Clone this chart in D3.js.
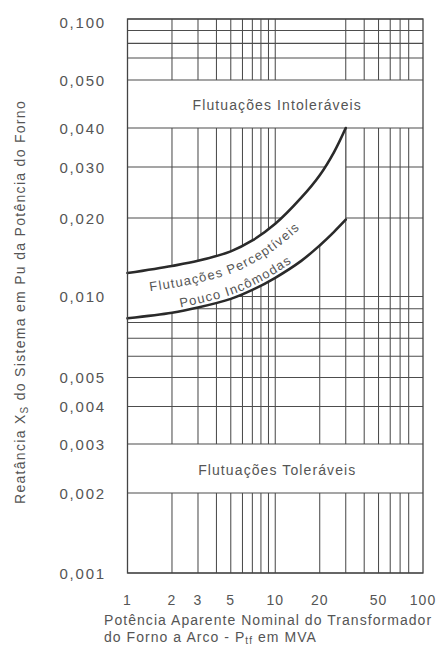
<!DOCTYPE html>
<html>
<head>
<meta charset="utf-8">
<script src="https://cdn.jsdelivr.net/npm/d3@7/dist/d3.min.js"></script>
<style>
  html, body { margin: 0; padding: 0; background: #fff; }
  svg { display: block; }
  text { font-family: "Liberation Sans", Arial, Helvetica, sans-serif; fill: #555; }
</style>
</head>
<body>
<svg id="chart" width="438" height="647"></svg>
<script>
// Furnace power (MVA) at which the limit curves are read
const furnaceMVA = [1, 2, 3, 5, 7, 10, 15, 20, 25, 30];
// Upper limit of the "perceptible, slightly annoying" zone (system reactance, pu)
const upperLimit = [0.0123, 0.0131, 0.0137, 0.0149, 0.0164, 0.0190, 0.0235, 0.0281, 0.0335, 0.0400];
// Lower limit of the same zone
const lowerLimit = [0.0083, 0.0087, 0.0091, 0.0098, 0.0106, 0.0118, 0.0137, 0.0157, 0.0177, 0.0197];

// Axis ticks
const xTicks = [1, 2, 3, 5, 10, 20, 50, 100];
const yTicks = [0.1, 0.05, 0.04, 0.03, 0.02, 0.01, 0.005, 0.004, 0.003, 0.002, 0.001];
const yTickLabels = ["0,100", "0,050", "0,040", "0,030", "0,020", "0,010", "0,005", "0,004", "0,003", "0,002", "0,001"];

// Grid lines
const xGrid = [2, 3, 4, 5, 6, 7, 8, 9, 10, 30, 40, 50, 60, 70, 80];
const xGridLowerOnly = [20];           // drawn only beneath the zone band
const yGridMinor = [0.09, 0.08, 0.07, 0.009, 0.008, 0.007, 0.006];

// Labelled zones
const zoneBands = [
  { lo: 0.04, hi: 0.05, label: "Flutuações Intoleráveis" },
  { lo: 0.002, hi: 0.003, label: "Flutuações Toleráveis" }
];
const bandLines = ["Flutuações Perceptíveis", "Pouco Incômodas"];

const svg = d3.select("#chart");

// Logarithmic power axis
const x = d3.scaleLog().domain([1, 100]).range([127.5, 423]);

// The reactance axis is drawn by hand: logarithmic between its graduations,
// with the upper decade compressed and the intolerable band widened.
const yStops = [0.001, 0.002, 0.003, 0.004, 0.005, 0.01, 0.02, 0.03, 0.04, 0.05, 0.07, 0.1];
const yStopPx = [573, 493, 444, 406.5, 377.5, 296.5, 218, 167, 128, 80, 58, 19];
const y = d3.scaleLog().domain(yStops).range(yStopPx);

const gridColor = "#4d4d4d";
const gridWidth = 1.05;
const g = svg.append("g");

// vertical grid
g.selectAll("line.vx").data(xGrid).join("line")
  .attr("x1", d => x(d)).attr("x2", d => x(d))
  .attr("y1", y(0.1)).attr("y2", y(0.001))
  .attr("stroke", gridColor).attr("stroke-width", gridWidth);
g.selectAll("line.vx20").data(xGridLowerOnly).join("line")
  .attr("x1", d => x(d)).attr("x2", d => x(d))
  .attr("y1", y(0.02)).attr("y2", y(0.001))
  .attr("stroke", gridColor).attr("stroke-width", gridWidth);

// zone bands (blank strips)
g.selectAll("rect.band").data(zoneBands).join("rect")
  .attr("x", x(1)).attr("width", x(100) - x(1))
  .attr("y", d => y(d.hi)).attr("height", d => y(d.lo) - y(d.hi))
  .attr("fill", "#fff");

// horizontal grid
g.selectAll("line.hy").data(yTicks.concat(yGridMinor)).join("line")
  .attr("x1", x(1)).attr("x2", x(100))
  .attr("y1", d => y(d)).attr("y2", d => y(d))
  .attr("stroke", gridColor).attr("stroke-width", gridWidth);

// zone between the two limit curves
const pts = furnaceMVA.map((m, i) => ({ m, hi: upperLimit[i], lo: lowerLimit[i] }));
const curve = d3.curveCatmullRom.alpha(0.5);
const area = d3.area()
  .x(d => x(d.m)).y0(d => y(d.lo)).y1(d => y(d.hi))
  .curve(curve);
g.append("path").datum(pts).attr("d", area).attr("fill", "#fff");

// closing segment at the right end of the zone
const last = pts[pts.length - 1];
g.append("line")
  .attr("x1", x(last.m)).attr("x2", x(last.m))
  .attr("y1", y(last.hi)).attr("y2", y(last.lo))
  .attr("stroke", gridColor).attr("stroke-width", gridWidth);

// limit curves
const lineHi = d3.line().x(d => x(d.m)).y(d => y(d.hi)).curve(curve);
const lineLo = d3.line().x(d => x(d.m)).y(d => y(d.lo)).curve(curve);
[lineHi, lineLo].forEach(fn => {
  g.append("path").datum(pts).attr("d", fn)
    .attr("fill", "none").attr("stroke", "#2a2a2a")
    .attr("stroke-width", 2.6).attr("stroke-linecap", "round");
});

// frame
g.append("rect")
  .attr("x", x(1)).attr("y", y(0.1))
  .attr("width", x(100) - x(1)).attr("height", y(0.001) - y(0.1))
  .attr("fill", "none").attr("stroke", "#444").attr("stroke-width", 1.3);

// zone labels
g.selectAll("text.band").data(zoneBands).join("text")
  .attr("x", (x(1) + x(100)) / 2 + 2)
  .attr("y", d => (y(d.hi) + y(d.lo)) / 2 + 1)
  .attr("text-anchor", "middle").attr("dominant-baseline", "central")
  .style("font-size", "14px").style("letter-spacing", "1.1px")
  .text(d => d.label);

// curved labels inside the zone, following the band
const bandTextSpec = [
  { t: 0.47, centerMVA: 5.0 },
  { t: 0.92, centerMVA: 5.7 }
];
bandLines.forEach((label, i) => {
  const spec = bandTextSpec[i];
  const mid = d3.line()
    .x(d => x(d.m))
    .y(d => (1 - spec.t) * y(d.hi) + spec.t * y(d.lo))
    .curve(curve);
  const id = "bandPath" + i;
  const p = g.append("path").datum(pts).attr("id", id).attr("d", mid)
    .attr("fill", "none").attr("stroke", "none");
  const node = p.node();
  const total = node.getTotalLength();
  const targetX = x(spec.centerMVA);
  let off = 0;
  for (let L = 0; L <= total; L += 0.5) {
    if (node.getPointAtLength(L).x >= targetX) { off = L; break; }
  }
  g.append("text")
    .style("font-size", "13px").style("letter-spacing", "1.2px")
    .append("textPath")
    .attr("href", "#" + id)
    .attr("startOffset", off)
    .attr("text-anchor", "middle")
    .text(label);
});

// y tick labels
svg.selectAll("text.yt").data(yTicks).join("text")
  .attr("x", 106).attr("y", d => Math.max(y(d), 22))
  .attr("text-anchor", "end").attr("dominant-baseline", "central")
  .style("font-size", "15px").style("letter-spacing", "1.8px")
  .text((d, i) => yTickLabels[i]);

// x tick labels
svg.selectAll("text.xt").data(xTicks).join("text")
  .attr("x", d => x(d)).attr("y", 605)
  .attr("text-anchor", "middle")
  .style("font-size", "14px").style("letter-spacing", "1px")
  .text(d => String(d));

// x axis title
const xt = svg.append("g").style("font-size", "14px").style("letter-spacing", "1.05px");
xt.append("text").attr("x", 104).attr("y", 625).text("Potência Aparente Nominal do Transformador");
const xt2 = xt.append("text").attr("x", 104).attr("y", 642);
xt2.append("tspan").text("do Forno a Arco - P");
xt2.append("tspan").attr("dy", 2).style("font-size", "10px").text("tf");
xt2.append("tspan").attr("dy", -2).text(" em MVA");

// y axis title
const yt = svg.append("text")
  .attr("transform", "translate(25,302) rotate(-90)")
  .attr("text-anchor", "middle")
  .style("font-size", "14px").style("letter-spacing", "1.3px");
yt.append("tspan").text("Reatância X");
yt.append("tspan").attr("dy", 3).style("font-size", "10px").text("S");
yt.append("tspan").attr("dy", -3).text(" do Sistema em Pu da Potência do Forno");
</script>
</body>
</html>
